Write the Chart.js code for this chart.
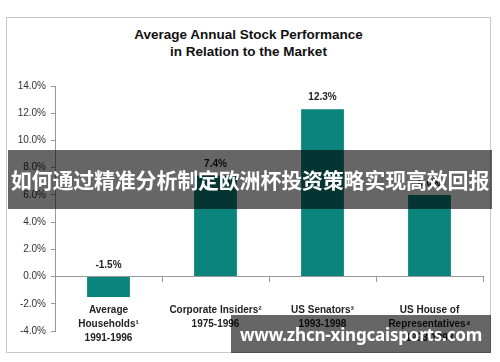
<!DOCTYPE html>
<html>
<head>
<meta charset="utf-8">
<script src="https://cdn.jsdelivr.net/npm/chart.js@4.4.1/dist/chart.umd.min.js"></script>
<style>
  html, body { margin: 0; padding: 0; background: #fff; }
  #wrap { position: relative; width: 500px; height: 362px; overflow: hidden; }
  #frame { position: absolute; left: 6px; top: 17px; width: 483px; height: 334px; border: 1.5px solid #c8c8c8; box-sizing: content-box; }
  #title { position: absolute; left: 0; width: 497px; top: 26px; text-align: center; font: bold 13.5px "Liberation Sans", Arial, sans-serif; line-height: 17px; color: #111; }
  canvas { position: absolute; left: 0; top: 0; }
  #banner1 { position: absolute; left: 8px; top: 150px; width: 484px; height: 59px; background: rgba(0,0,0,0.6); color: #fff; font: bold 21px "Noto Sans CJK SC", sans-serif; line-height: 59px; text-align: center; white-space: nowrap; letter-spacing: -0.2px; }
  #banner2 { position: absolute; left: 231px; top: 315px; width: 260px; height: 38px; background: rgba(0,0,0,0.6); color: #fff; font: bold 17px "Noto Sans", "Open Sans", sans-serif; line-height: 40px; text-align: center; white-space: nowrap; letter-spacing: -0.2px; }
</style>
</head>
<body>
<div id="wrap">
  <div id="frame"></div>
  <div id="title">Average Annual Stock Performance<br>in Relation to the Market</div>
  <canvas id="c" width="500" height="362"></canvas>
  <div id="banner1">如何通过精准分析制定欧洲杯投资策略实现高效回报</div>
  <div id="banner2">www.zhcn-xingcaisports.com</div>
</div>
<script>
const categories = [
  ["Average", "Households¹", "1991-1996"],
  ["Corporate Insiders²", "1975-1996"],
  ["US Senators³", "1993-1998"],
  ["US House of", "Representatives⁴", "1993-1998"]
];
const values = [-1.5, 7.4, 12.3, 6.0];
const yMin = -4, yMax = 14, yStep = 2;

const valueLabels = {
  id: 'valueLabels',
  afterDatasetsDraw(chart) {
    const ctx = chart.ctx;
    const meta = chart.getDatasetMeta(0);
    ctx.save();
    ctx.font = 'bold 10px "Liberation Sans", Arial, sans-serif';
    ctx.fillStyle = '#222';
    ctx.textAlign = 'center';
    ctx.textBaseline = 'middle';
    meta.data.forEach((bar, i) => {
      const top = Math.min(bar.y, bar.base);
      ctx.fillText(values[i].toFixed(1) + '%', bar.x, top - 12);
    });
    ctx.restore();
  }
};

new Chart(document.getElementById('c'), {
  type: 'bar',
  data: {
    labels: categories,
    datasets: [{
      data: values,
      backgroundColor: '#0a847d',
      borderWidth: 0,
      categoryPercentage: 1,
      barPercentage: 0.4
    }]
  },
  options: {
    responsive: false,
    animation: false,
    devicePixelRatio: 1,
    layout: { padding: { left: 0, right: 17, top: 86, bottom: 31 } },
    plugins: { legend: { display: false }, tooltip: { enabled: false }, title: { display: false } },
    scales: {
      x: {
        position: { y: 0 },
        offset: true,
        grid: { display: true, drawOnChartArea: false, offset: true, color: '#999', tickLength: 5, lineWidth: 1 },
        border: { display: true, color: '#999', width: 1 },
        ticks: {
          color: '#222',
          padding: 22,
          maxRotation: 0,
          autoSkip: false,
          font: { family: '"Liberation Sans", Arial, sans-serif', size: 10, weight: 'bold', lineHeight: 1.4 }
        }
      },
      y: {
        min: yMin, max: yMax,
        afterFit(scale) { scale.width = 55; },
        grid: { display: true, drawOnChartArea: false, color: '#999', tickLength: 4 },
        border: { display: true, color: '#999', width: 1 },
        ticks: {
          stepSize: yStep,
          color: '#333',
          padding: 5,
          font: { family: '"Liberation Sans", Arial, sans-serif', size: 10 },
          callback: v => v.toFixed(1) + '%'
        }
      }
    }
  },
  plugins: [valueLabels]
});
</script>
</body>
</html>
